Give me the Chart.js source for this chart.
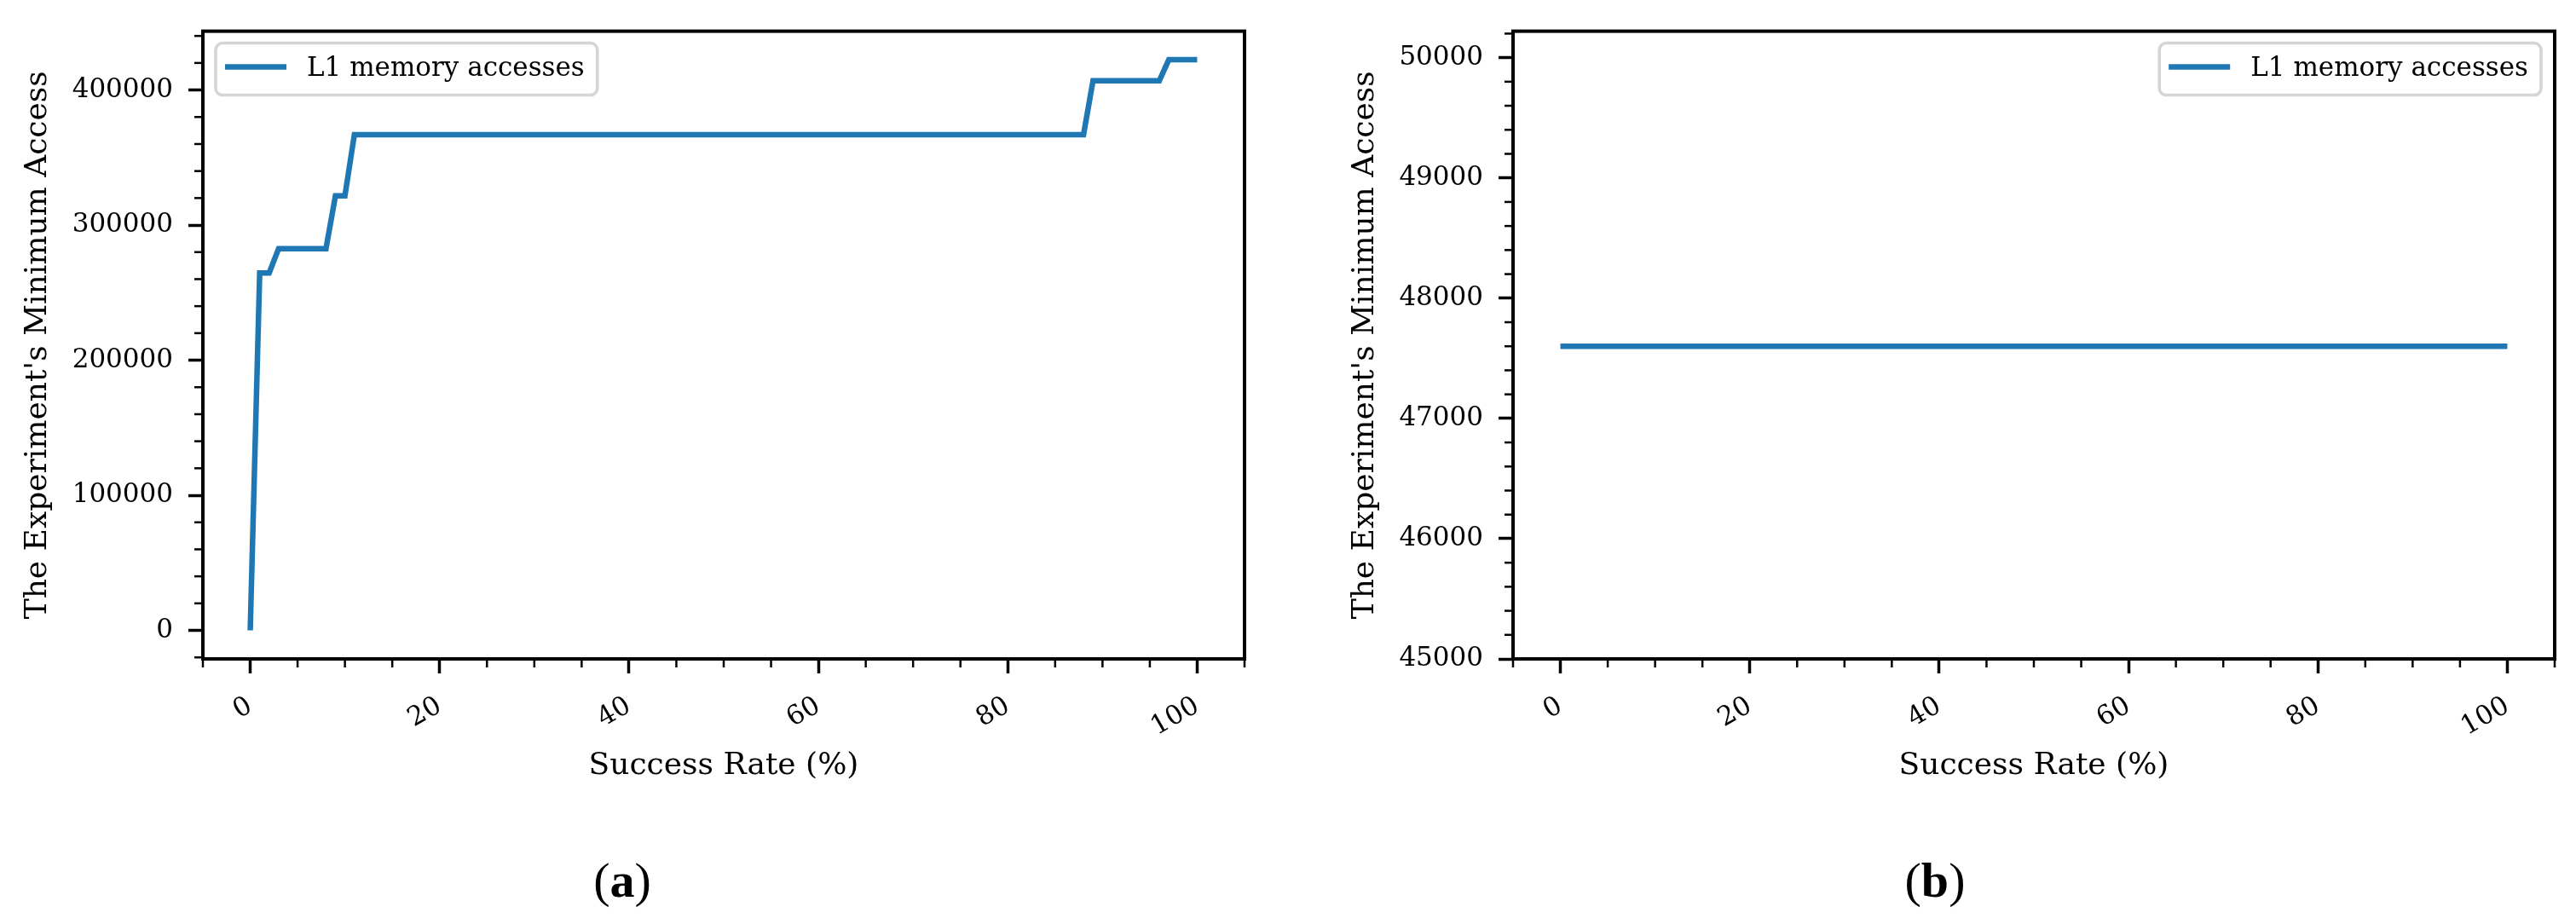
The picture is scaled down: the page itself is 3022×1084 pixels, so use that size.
<!DOCTYPE html>
<html>
<head>
<meta charset="utf-8">
<script src="https://cdn.jsdelivr.net/npm/chart.js@4.4.1/dist/chart.umd.min.js"></script>
<style>
  body { margin: 0; background: #fff; width: 3022px; height: 1084px; position: relative; overflow: hidden; }
  canvas { position: absolute; top: 0; }
  .cap { position: absolute; top: 998px; width: 200px; text-align: center; font-family: "Liberation Serif", serif; font-size: 58px; line-height: 70px; color: #000; }
</style>
</head>
<body>
<canvas id="chartA" width="1511" height="930" style="left:0px"></canvas>
<canvas id="chartB" width="1511" height="930" style="left:1511px"></canvas>
<div class="cap" style="left:630px">(<b>a</b>)</div>
<div class="cap" style="left:2170px">(<b>b</b>)</div>

<script>
// Data
const successA = [0, 1, 2, 3, 8, 9, 10, 11, 88, 89, 96, 97, 100];
const accessesA = [0, 264600, 264600, 282600, 282600, 321700, 321700, 367000, 367000, 406800, 406800, 422400, 422400];
const successB = [0, 100];
const accessesB = [47600, 47600];

const xTicks = [0, 20, 40, 60, 80, 100];
const yTicksA = [0, 100000, 200000, 300000, 400000];
const yTicksB = [45000, 46000, 47000, 48000, 49000, 50000];

const seriesLabel = 'L1 memory accesses';
const FONT = '"DejaVu Serif", serif';

// black frame round the plot area
const frame = {
    id: 'frame',
    afterDraw(chart) {
        const ctx = chart.ctx;
        const a = chart.chartArea;
        ctx.save();
        ctx.strokeStyle = '#000';
        ctx.lineWidth = 4;
        ctx.strokeRect(a.left, a.top, a.right - a.left, a.bottom - a.top);
        ctx.restore();
    }
};

// short minor ticks between the labelled ones
const minorTicks = {
    id: 'minorTicks',
    afterDraw(chart, args, opts) {
        const ctx = chart.ctx;
        const a = chart.chartArea;
        ctx.save();
        ctx.strokeStyle = '#000';
        ctx.lineWidth = 2.5;
        ['x', 'y'].forEach(id => {
            const s = chart.scales[id];
            const step = opts[id];
            for (let k = Math.ceil(s.min / step); k * step <= s.max + 1e-9; k++) {
                const v = k * step;
                if (s.ticks.some(t => Math.abs(t.value - v) < step / 100)) continue;
                const p = s.getPixelForValue(v);
                ctx.beginPath();
                if (id === 'x') {
                    ctx.moveTo(p, a.bottom);
                    ctx.lineTo(p, a.bottom + 10);
                } else {
                    ctx.moveTo(a.left, p);
                    ctx.lineTo(a.left - 10, p);
                }
                ctx.stroke();
            }
        });
        ctx.restore();
    }
};

// legend box inside the plot, like matplotlib's
const boxLegend = {
    id: 'boxLegend',
    afterDraw(chart, args, opts) {
        const ctx = chart.ctx;
        const a = chart.chartArea;
        const ds = chart.data.datasets[0];
        ctx.save();
        ctx.font = '31px ' + FONT;
        const tw = ctx.measureText(ds.label).width;
        const w = 107 + tw + 15;
        const h = 61;
        const x = opts.side === 'right' ? a.right - 16 - w : a.left + 15;
        const y = a.top + 14;
        ctx.beginPath();
        ctx.roundRect(x, y, w, h, 8);
        ctx.fillStyle = 'rgba(255,255,255,0.8)';
        ctx.fill();
        ctx.strokeStyle = '#d5d5d5';
        ctx.lineWidth = 3.5;
        ctx.stroke();
        ctx.beginPath();
        ctx.moveTo(x + 11, y + 28);
        ctx.lineTo(x + 83, y + 28);
        ctx.strokeStyle = ds.borderColor;
        ctx.lineWidth = 6.5;
        ctx.stroke();
        ctx.fillStyle = '#000';
        ctx.textBaseline = 'middle';
        ctx.fillText(ds.label, x + 107, y + 30);
        ctx.restore();
    }
};

function makeChart(id, xs, ys, cfg) {
    const ctx = document.getElementById(id).getContext('2d');
    return new Chart(ctx, {
        type: 'line',
        data: {
            datasets: [{
                label: seriesLabel,
                data: xs.map((x, i) => ({ x: x, y: ys[i] })),
                borderColor: '#1f77b4',
                borderWidth: 6.5,
                pointRadius: 0,
                tension: 0,
                fill: false
            }]
        },
        options: {
            responsive: false,
            animation: false,
            layout: { padding: { top: 24, right: cfg.padRight, left: 0, bottom: 0 } },
            scales: {
                x: {
                    type: 'linear',
                    min: -5,
                    max: 105,
                    afterBuildTicks: s => { s.ticks = xTicks.map(v => ({ value: v })); },
                    afterFit: s => { s.height = 157; },
                    ticks: {
                        minRotation: 30,
                        maxRotation: 30,
                        padding: 20,
                        color: '#000',
                        font: { family: FONT, size: 31 },
                        callback: v => String(v)
                    },
                    grid: { drawOnChartArea: false, drawTicks: true, tickLength: 17, tickWidth: 3.5, tickColor: '#000' },
                    border: { display: false },
                    title: {
                        display: true,
                        text: 'Success Rate (%)',
                        color: '#000',
                        font: { family: FONT, size: 36 },
                        padding: { top: 0, bottom: 10 }
                    }
                },
                y: {
                    type: 'linear',
                    min: cfg.yMin,
                    max: cfg.yMax,
                    afterBuildTicks: s => { s.ticks = cfg.yTicks.map(v => ({ value: v })); },
                    afterFit: s => { s.width = cfg.axisWidth; },
                    ticks: {
                        padding: 18,
                        color: '#000',
                        font: { family: FONT, size: 31 },
                        callback: v => String(v)
                    },
                    grid: { drawOnChartArea: false, drawTicks: true, tickLength: 17, tickWidth: 3.5, tickColor: '#000' },
                    border: { display: false },
                    title: {
                        display: true,
                        text: "The Experiment's Minimum Access",
                        color: '#000',
                        font: { family: FONT, size: 36 },
                        padding: { top: cfg.titlePad, bottom: 0 }
                    }
                }
            },
            plugins: {
                legend: { display: false },
                tooltip: { enabled: false },
                minorTicks: { x: 5, y: cfg.minorY },
                boxLegend: { side: cfg.legendSide }
            }
        },
        plugins: [frame, minorTicks, boxLegend]
    });
}

makeChart('chartA', successA, accessesA, {
    yMin: -21120, yMax: 443520, yTicks: yTicksA, minorY: 20000,
    axisWidth: 238, titlePad: 23, padRight: 51, legendSide: 'left'
});

makeChart('chartB', successB, accessesB, {
    yMin: 45000, yMax: 50220, yTicks: yTicksB, minorY: 200,
    axisWidth: 264, titlePad: 69, padRight: 25, legendSide: 'right'
});
</script>
</body>
</html>
